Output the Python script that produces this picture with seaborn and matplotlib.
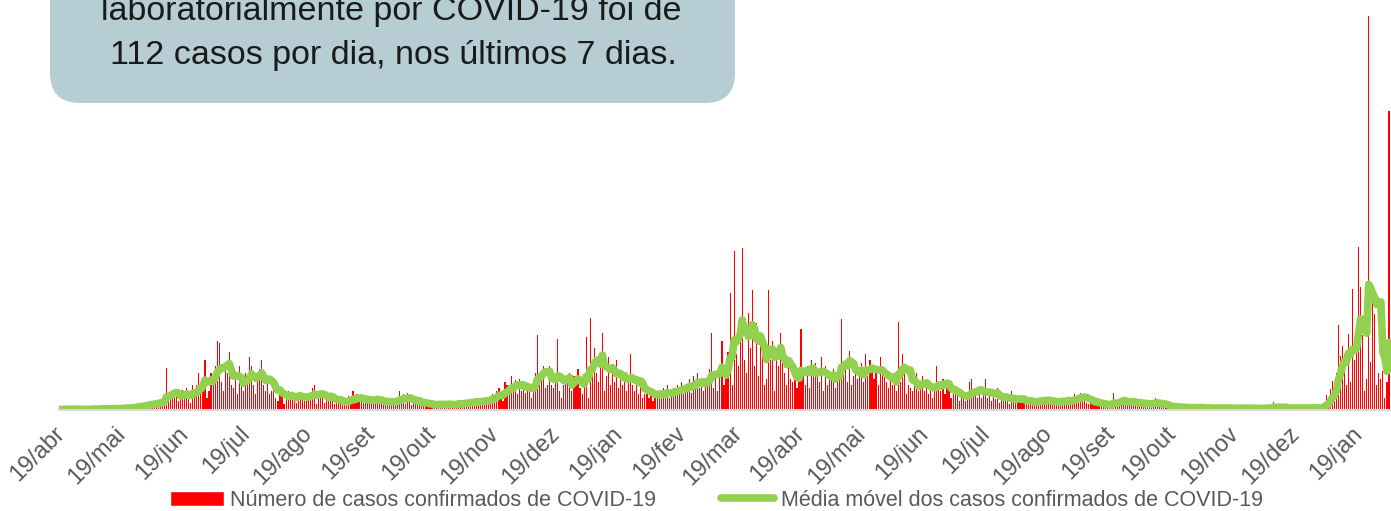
import numpy as np
import pandas as pd
import matplotlib
matplotlib.use("Agg")
import matplotlib.pyplot as plt
import matplotlib.transforms as mtransforms
from matplotlib.patches import FancyBboxPatch, Patch
from matplotlib.lines import Line2D
import seaborn as sns

sns.set_theme(style="white")
plt.rcParams['font.family'] = ['Liberation Sans', 'DejaVu Sans']

# casos diarios, cada lista va del dia 19 al 18 del mes siguiente
casos_abr20 = [1, 0, 2, 1, 1, 3, 0, 1, 2, 1, 0, 2, 1, 0, 2, 1, 3, 2, 1, 0, 2, 3, 1, 2, 4, 2, 1, 3, 2, 3]
casos_mai20 = [3, 2, 4, 5, 3, 2, 4, 6, 5, 8, 9, 7, 4, 10, 9, 12, 10, 14, 11, 8, 13, 15, 18, 67,
               17, 24, 20, 28, 22, 14, 30]
casos_jun20 = [32, 20, 35, 18, 12, 40, 30, 40, 60, 35, 50, 80, 20, 30, 60, 50, 70, 110, 107, 45, 30,
               75, 60, 93, 40, 35, 55, 25, 70, 45]
casos_jul20 = [30, 60, 45, 85, 70, 40, 25, 50, 65, 80, 40, 30, 55, 25, 30, 45, 20, 15, 35, 25, 10,
               20, 30, 18, 25, 22, 12, 28, 25, 20, 15]
casos_ago20 = [20, 28, 18, 35, 40, 10, 22, 25, 30, 12, 20, 18, 28, 15, 10, 14, 12, 18, 8, 16, 10,
               22, 18, 30, 12, 25, 14, 16, 12, 18, 15]
casos_set20 = [18, 20, 12, 14, 22, 10, 16, 8, 15, 10, 14, 18, 12, 16, 12, 30, 15, 25, 10, 28, 15,
               8, 12, 14, 10, 16, 12, 8, 9, 7]
casos_out20 = [8, 10, 6, 12, 9, 11, 7, 6, 9, 12, 8, 10, 7, 9, 14, 10, 8, 16, 12, 9, 13,
               15, 12, 18, 10, 14, 16, 13, 20, 14, 22]
casos_nov20 = [25, 18, 30, 35, 20, 15, 45, 40, 35, 55, 30, 48, 25, 50, 30, 45, 28, 40, 35, 20, 42,
               60, 120, 45, 55, 70, 35, 40, 70, 40]
casos_dez20 = [35, 50, 113, 30, 20, 40, 55, 45, 60, 30, 55, 40, 65, 35, 25, 40, 117, 20, 148, 70, 100,
               60, 45, 70, 124, 30, 55, 85, 40, 70, 45]
casos_jan21 = [80, 35, 55, 40, 60, 30, 45, 89, 40, 30, 45, 25, 50, 20, 25, 30, 20, 35, 15, 28, 22,
               30, 18, 35, 22, 40, 20, 25, 35, 28, 40]
casos_fev21 = [30, 45, 25, 40, 35, 50, 28, 55, 40, 60, 35, 48, 30, 50, 40, 65, 124, 35, 55, 30, 60,
               111, 40, 60, 93, 187, 40, 254]
casos_mar21 = [90, 70, 110, 259, 80, 60, 155, 100, 192, 70, 139, 55, 120, 90, 40, 50, 192, 80, 110, 30, 95,
               70, 123, 90, 60, 40, 75, 50, 45, 60, 35]
casos_abr21 = [50, 130, 60, 40, 70, 35, 80, 55, 75, 60, 45, 85, 30, 70, 40, 55, 50, 65, 35, 60, 70,
               146, 60, 80, 45, 95, 40, 55, 70, 50]
casos_mai21 = [60, 75, 45, 90, 55, 80, 65, 50, 70, 40, 85, 60, 55, 45, 35, 50, 40, 60, 30, 141, 45,
               90, 70, 25, 40, 35, 30, 45, 60, 30, 40]
casos_jun21 = [55, 30, 45, 25, 35, 20, 40, 70, 45, 30, 50, 25, 40, 35, 20, 25, 35, 30, 15, 22, 18,
               15, 20, 45, 50, 25, 30, 20, 35, 20]
casos_jul21 = [25, 50, 20, 30, 15, 25, 18, 35, 12, 20, 15, 22, 18, 10, 30, 15, 12, 18, 20, 14, 16,
               10, 14, 12, 16, 8, 18, 12, 20, 15, 18]
casos_ago21 = [12, 16, 10, 14, 8, 18, 12, 15, 20, 10, 14, 18, 12, 16, 25, 22, 18, 28, 15, 20, 12,
               10, 14, 8, 12, 18, 6, 10, 8, 5, 7]
casos_set21 = [6, 10, 28, 12, 8, 14, 15, 18, 10, 12, 16, 8, 14, 12, 10, 8, 12, 6, 14, 9, 11,
               8, 12, 20, 6, 10, 5, 9, 4, 6]
casos_out21 = [5, 3, 8, 4, 2, 6, 3, 4, 2, 5, 3, 6, 2, 4, 3, 5, 2, 4, 3, 2, 4,
               3, 2, 4, 5, 3, 2, 3, 2, 4, 3]
casos_nov21 = [3, 2, 4, 3, 1, 5, 2, 3, 4, 2, 3, 1, 3, 2, 4, 3, 2, 5, 3, 2, 13,
               2, 3, 4, 2, 3, 5, 2, 3, 4]
casos_dez21 = [3, 2, 4, 3, 5, 2, 3, 4, 3, 2, 5, 3, 4, 2, 6, 10, 24, 15, 34, 47, 20,
               60, 136, 87, 103, 90, 40, 122, 45, 194, 80]
casos_jan22 = [120, 261, 197, 120, 30, 50, 630, 77, 200, 154, 40, 60, 50, 63, 20, 45, 478]

meses = ["abr", "mai", "jun", "jul", "ago", "set", "out", "nov", "dez", "jan", "fev",
         "mar", "abr", "mai", "jun", "jul", "ago", "set", "out", "nov", "dez", "jan"]

casos = (casos_abr20 + casos_mai20 + casos_jun20 + casos_jul20 + casos_ago20 + casos_set20
         + casos_out20 + casos_nov20 + casos_dez20 + casos_jan21 + casos_fev21 + casos_mar21
         + casos_abr21 + casos_mai21 + casos_jun21 + casos_jul21 + casos_ago21 + casos_set21
         + casos_out21 + casos_nov21 + casos_dez21 + casos_jan22)

inicio = pd.Timestamp("2020-04-19")
df = pd.DataFrame({"casos": casos})
df["dia"] = np.arange(len(df))
df["media"] = df["casos"].rolling(7, min_periods=1).mean()  # media movel 7 dias

fig = plt.figure(figsize=(13.91, 5.11), dpi=100)
ax = fig.add_axes([59 / 1391, 101 / 511, 1332 / 1391, 410 / 511])

sns.barplot(data=df, x="dia", y="casos", color="#FF0000", saturation=1, width=0.55,
            native_scale=True, errorbar=None, linewidth=0, ax=ax)
sns.lineplot(data=df, x="dia", y="media", color="#92D050", linewidth=5.5,
             solid_capstyle="round", ax=ax, legend=False)

# ticks no dia 19 de cada mes
fechas_ticks = [inicio + pd.DateOffset(months=i) for i in range(len(meses))]
ax.set_xticks([(f - inicio).days for f in fechas_ticks])
ax.set_xticklabels(["19/" + m for m in meses], rotation=45, ha="right", va="top",
                   rotation_mode="anchor", fontsize=17, color="#595959")
ax.set_xlim(0, 657)
ax.set_ylim(0, 656)
ax.set_yticks([])
ax.set_xlabel("")
ax.set_ylabel("")
sns.despine(ax=ax, left=True)
ax.spines["bottom"].set_color("#D9D9D9")
ax.spines["bottom"].set_linewidth(1.5)
ax.tick_params(axis="x", length=8, width=1.5, color="#D9D9D9", direction="out", pad=1)
desloc = mtransforms.ScaledTranslation(-0.05, 0.0, fig.dpi_scale_trans)
for lbl in ax.get_xticklabels():
    lbl.set_transform(lbl.get_transform() + desloc)
ax.patch.set_alpha(0)

# caixa de texto
ov = fig.add_axes([0, 0, 1, 1], zorder=5)
ov.set_xlim(0, 1391)
ov.set_ylim(511, 0)
ov.axis("off")
ov.patch.set_alpha(0)
ov.add_patch(FancyBboxPatch((50, -80), 685, 183, boxstyle="round,pad=0,rounding_size=30",
                            fc="#B5CDD3", ec="none"))
ov.text(391, 20, "laboratorialmente por COVID-19 foi de", ha="center", va="baseline",
        fontsize=24.5, color="#1A1A1A")
ov.text(393, 64, "112 casos por dia, nos últimos 7 dias.", ha="center", va="baseline",
        fontsize=24.5, color="#1A1A1A")

handles = [Patch(facecolor="#FF0000", label="Número de casos confirmados de COVID-19"),
           Line2D([0], [0], color="#92D050", lw=5.5, label="Média móvel dos casos confirmados de COVID-19")]
fig.legend(handles=handles, loc="center", bbox_to_anchor=(0.515, 0.021), ncol=2, frameon=False,
           fontsize=15.5, handlelength=2.5, handletextpad=0.3, columnspacing=3.0,
           labelcolor="#595959")

fig.savefig("out.png", dpi=100)
